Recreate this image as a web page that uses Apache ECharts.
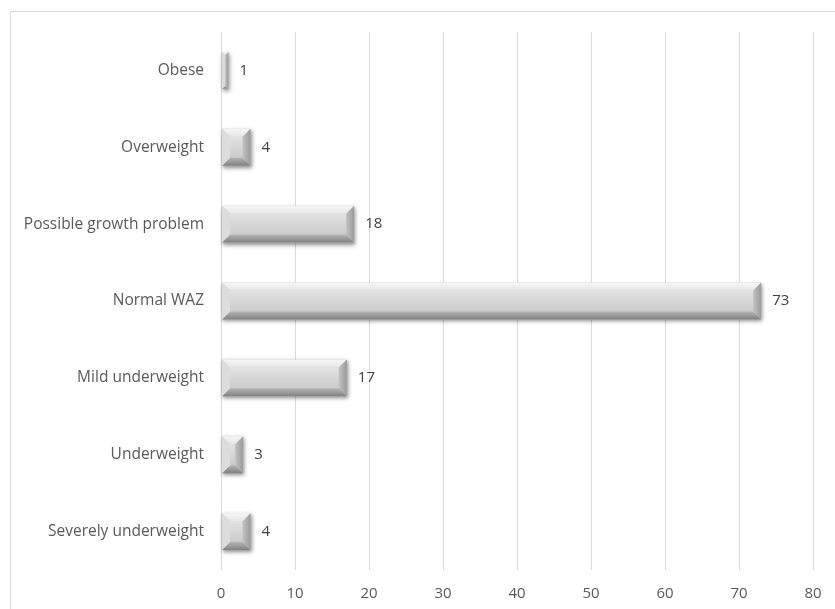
<!DOCTYPE html>
<html>
<head>
<meta charset="utf-8">
<script src="https://cdn.jsdelivr.net/npm/echarts@6/dist/echarts.min.js"></script>
<style>html,body{margin:0;padding:0;background:#fff}#c{width:835px;height:609px}</style>
</head>
<body>
<div id="c"></div>
<script>
var categories = ['Severely underweight', 'Underweight', 'Mild underweight', 'Normal WAZ', 'Possible growth problem', 'Overweight', 'Obese'];
var values = [4, 3, 17, 73, 18, 4, 1];
var xTicks = { min: 0, max: 80, interval: 10 };

var chart = echarts.init(document.getElementById('c'), null, { renderer: 'canvas' });
var FONT = '"Open Sans", "Liberation Sans", Arial, sans-serif';

function renderItem(params, api) {
  var v = api.value(1);
  var cat = api.value(0);
  var start = api.coord([0, cat]);
  var end = api.coord([v, cat]);
  var h = api.size([0, 1])[1] * 0.48;
  var x0 = start[0] + 1, x1 = end[0];
  var y0 = start[1] - h / 2, y1 = start[1] + h / 2;
  var w = x1 - x0;
  var b = Math.min(8, w / 2, h / 2);
  var children = [];
  children.push({ type: 'rect', shape: { x: x0, y: y0, width: w, height: h },
    style: { fill: '#cfcfcf', shadowBlur: 4, shadowOffsetX: 1, shadowOffsetY: 2, shadowColor: 'rgba(0,0,0,0.45)' } });
  children.push({ type: 'rect', shape: { x: x0 + b, y: y0 + b, width: w - 2 * b, height: h - 2 * b },
    style: { fill: new echarts.graphic.LinearGradient(0, 0, 0, 1, [{ offset: 0, color: '#e2e2e2' }, { offset: 1, color: '#cbcbcb' }]) } });
  children.push({ type: 'polygon', shape: { points: [[x0, y0], [x1, y0], [x1 - b, y0 + b], [x0 + b, y0 + b]] },
    style: { fill: new echarts.graphic.LinearGradient(0, 0, 0, 1, [{ offset: 0, color: '#f6f6f6' }, { offset: 1, color: '#e6e6e6' }]) } });
  children.push({ type: 'polygon', shape: { points: [[x0, y1], [x1, y1], [x1 - b, y1 - b], [x0 + b, y1 - b]] },
    style: { fill: new echarts.graphic.LinearGradient(0, 0, 0, 1, [{ offset: 0, color: '#b5b5b5' }, { offset: 1, color: '#808080' }]) } });
  children.push({ type: 'polygon', shape: { points: [[x0, y0], [x0 + b, y0 + b], [x0 + b, y1 - b], [x0, y1]] },
    style: { fill: '#dcdcdc' } });
  children.push({ type: 'polygon', shape: { points: [[x1, y0], [x1 - b, y0 + b], [x1 - b, y1 - b], [x1, y1]] },
    style: { fill: new echarts.graphic.LinearGradient(1, 0, 0, 0, [{ offset: 0, color: '#9a9a9a' }, { offset: 1, color: '#c2c2c2' }]) } });
  children.push({ type: 'text', x: x1 + 11, y: start[1],
    style: { text: String(v), fill: '#404040', font: '15px ' + FONT, textAlign: 'left', textVerticalAlign: 'middle' } });
  return { type: 'group', children: children };
}

chart.setOption({
  animation: false,
  graphic: [{ type: 'rect', left: 8, top: 9, shape: { x: 0, y: 0, width: 900, height: 700 }, style: { fill: 'none', stroke: '#d9d9d9', lineWidth: 1 }, z: -10 }],
  grid: { left: 221, right: 22, top: 32, bottom: 39, containLabel: false },
  xAxis: {
    type: 'value', min: xTicks.min, max: xTicks.max, interval: xTicks.interval,
    axisLine: { show: false }, axisTick: { show: false },
    splitLine: { show: true, lineStyle: { color: '#d9d9d9', width: 1 } },
    axisLabel: { color: '#595959', fontSize: 15, fontFamily: FONT, margin: 16 }
  },
  yAxis: {
    type: 'category', data: categories,
    axisLine: { show: false }, axisTick: { show: false }, splitLine: { show: false },
    axisLabel: { color: '#595959', fontSize: 15.5, fontFamily: FONT, margin: 17 }
  },
  series: [{
    type: 'custom', renderItem: renderItem,
    encode: { x: 1, y: 0 },
    data: values.map(function (v, i) { return [i, v]; })
  }]
});
</script>
</body>
</html>
